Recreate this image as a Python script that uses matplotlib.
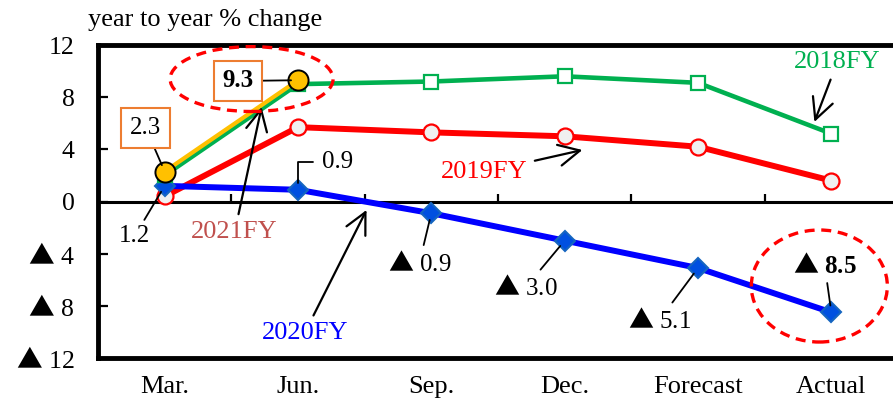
import matplotlib
matplotlib.use("Agg")
import matplotlib.pyplot as plt
from matplotlib.patches import Ellipse

plt.rcParams['font.family'] = ['Liberation Serif', 'DejaVu Sans']
plt.rcParams['mathtext.fontset'] = 'custom'
plt.rcParams['mathtext.rm'] = 'Noto Sans CJK JP'
plt.rcParams['mathtext.it'] = 'Noto Sans CJK JP'
plt.rcParams['mathtext.bf'] = 'Noto Sans CJK JP'

TRI = r"$\mathrm{▲}$"

categories = ["Mar.", "Jun.", "Sep.", "Dec.", "Forecast", "Actual"]
fy2018 = [2.0, 9.0, 9.2, 9.6, 9.1, 5.2]
fy2019 = [0.4, 5.7, 5.3, 5.0, 4.2, 1.6]
fy2020 = [1.2, 0.9, -0.9, -3.0, -5.1, -8.5]
fy2021 = [2.3, 9.3]
yticks = [12, 8, 4, 0, -4, -8, -12]
ytick_labels = ["12", "8", "4", "0", TRI + " 4", TRI + " 8", TRI + " 12"]

W, H = 893, 404
fig = plt.figure(figsize=(W / 100, H / 100), dpi=100)
ax = fig.add_axes([98 / W, 1 - 358 / H, 800 / W, (358 - 45) / H])

x = list(range(len(categories)))
x21 = x[:len(fy2021)]

ax.plot(x, fy2019, color='#FF0000', lw=4.3, marker='o', ms=11.5,
        mfc='#F0F0F0', mec='#FF0000', mew=1.6, zorder=3)
ax.plot(x, fy2020, color='#0000FF', lw=4.3, marker='D', ms=10,
        mfc='#0050E0', mec='#1565C0', mew=1.5, zorder=4)
ax.plot(x, fy2018, color='#00B050', lw=3.3, marker='s', ms=10,
        mfc='white', mec='#00B050', mew=1.6, zorder=5)
ax.plot(x21, fy2021, color='#FFC000', lw=3.0, marker='o', ms=14.5,
        mfc='#FFC000', mec='black', mew=1.4, zorder=6)

ax.set_xlim(-0.5, len(categories) - 0.5)
ax.set_ylim(-12, 12)
ax.axhline(0, color='black', lw=2.2, zorder=2)
ax.vlines([i + 0.5 for i in x[:-1]], 0, 0.55, color='black', lw=1.6, zorder=2)

ax.set_xticks(x)
ax.set_xticklabels(categories, fontsize=19)
ax.tick_params(axis='x', length=0, pad=13)
ax.set_yticks(yticks)
ax.set_yticklabels(ytick_labels, fontsize=18.5)
ax.tick_params(axis='y', direction='in', length=7, width=1.6, pad=17)
for s in ax.spines.values():
    s.set_linewidth(3.5)
    s.set_color('black')

fig.text(88 / W, 1 - 20 / H, "year to year % change", fontsize=19,
         ha='left', va='center')

box = dict(boxstyle='square,pad=0.35', fc='white', ec='#ED7D31', lw=1.5)
line = dict(arrowstyle='-', color='black', lw=1.3, shrinkA=0, shrinkB=5)

ax.annotate("2.3", xy=(0, fy2021[0]), xytext=(-0.142, 5.64), fontsize=18,
            ha='center', va='center', bbox=box, arrowprops=line, zorder=7)
ax.annotate("9.3", xy=(1, fy2021[1]), xytext=(0.55, 9.24), fontsize=18,
            fontweight='bold', ha='center', va='center', bbox=box,
            arrowprops=line, zorder=7)
ax.annotate("1.2", xy=(0, fy2020[0]), xytext=(-0.225, -2.65), fontsize=18,
            ha='center', va='center',
            arrowprops=dict(line, shrinkA=2), zorder=7)
ax.annotate("0.9", xy=(1, fy2020[1]), xytext=(1.30, 3.03), fontsize=18,
            ha='center', va='center',
            arrowprops=dict(arrowstyle='-', color='black', lw=1.3,
                            shrinkA=5, shrinkB=5,
                            connectionstyle='angle,angleA=0,angleB=90,rad=0'),
            zorder=7)
for xv, yv, tx, ty in [(2, fy2020[2], 1.91, -4.72),
                       (3, fy2020[3], 2.71, -6.56),
                       (4, fy2020[4], 3.71, -9.09)]:
    ax.annotate(TRI + " %.1f" % abs(yv), xy=(xv, yv), xytext=(tx, ty),
                fontsize=18, ha='center', va='center',
                arrowprops=dict(line, shrinkA=2), zorder=7)
ax.annotate(TRI + " %.1f" % abs(fy2020[5]), xy=(5, fy2020[5]),
            xytext=(4.95, -4.87), fontsize=18, fontweight='bold',
            ha='center', va='center',
            arrowprops=dict(line, shrinkA=2), zorder=7)

arrow = dict(arrowstyle='->,head_length=0.8,head_width=0.4', color='black',
             lw=1.6, shrinkA=3, shrinkB=0)
ax.annotate("2021FY", xy=(0.727, 7.24), xytext=(0.525, -2.34), fontsize=19,
            color='#C0504D', ha='center', va='center', arrowprops=arrow, zorder=7)
ax.annotate("2019FY", xy=(3.133, 3.95), xytext=(2.40, 2.26), fontsize=19,
            color='#FF0000', ha='center', va='center', arrowprops=arrow, zorder=7)
ax.annotate("2018FY", xy=(4.873, 6.1), xytext=(5.045, 10.7), fontsize=19,
            color='#00B050', ha='center', va='center', arrowprops=arrow, zorder=7)
ax.annotate("2020FY", xy=(1.514, -0.65), xytext=(1.05, -10.08), fontsize=19,
            color='#0000FF', ha='center', va='center', arrowprops=arrow, zorder=7)

for cx, cy, w, h in [(0.652, 9.39, 1.222, 4.98), (4.91, -6.48, 1.02, 8.59)]:
    ax.add_patch(Ellipse((cx, cy), w, h, fill=False, ec='#FF0000', lw=2.4,
                         ls=(0, (3, 2)), zorder=8))

fig.savefig("out.png", dpi=100)
